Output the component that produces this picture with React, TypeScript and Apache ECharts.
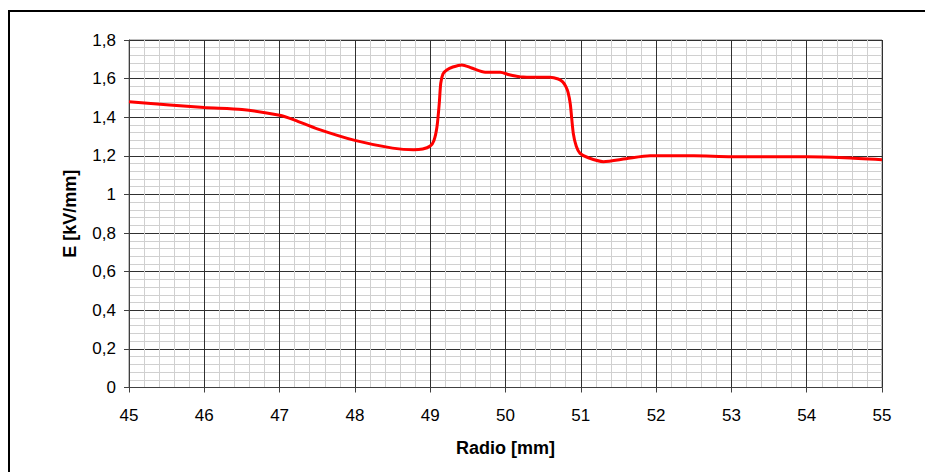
import React, { useEffect, useRef } from "react";
import * as echarts from "echarts";

const radio = [45, 46, 46.5, 47, 47.2, 47.5, 48, 48.5, 48.78, 48.9, 49.0, 49.05, 49.09, 49.12, 49.14, 49.17, 49.22, 49.3, 49.42, 49.55, 49.73, 49.93, 50.05, 50.19, 50.4, 50.59, 50.7, 50.76, 50.8, 50.83, 50.86, 50.9, 50.94, 50.99, 51.1, 51.3, 51.6, 51.92, 52.5, 53, 54, 54.5, 55];
const field = [1.48, 1.45, 1.44, 1.41, 1.385, 1.34, 1.28, 1.24, 1.231, 1.235, 1.251, 1.28, 1.351, 1.47, 1.576, 1.625, 1.645, 1.66, 1.671, 1.655, 1.633, 1.633, 1.62, 1.61, 1.607, 1.607, 1.598, 1.583, 1.56, 1.53, 1.47, 1.317, 1.25, 1.213, 1.19, 1.17, 1.185, 1.2, 1.2, 1.195, 1.195, 1.19, 1.18];
const xTicks = [45, 46, 47, 48, 49, 50, 51, 52, 53, 54, 55];
const yTicks = [0, 0.2, 0.4, 0.6, 0.8, 1, 1.2, 1.4, 1.6, 1.8];

export default function App() {
  const ref = useRef<HTMLDivElement>(null);
  useEffect(() => {
    document.body.style.margin = "0";
    const chart = echarts.init(ref.current!, null, { renderer: "svg" });
    const font = "Liberation Sans, Arial, sans-serif";
    chart.setOption({
      animation: false,
      backgroundColor: "#ffffff",
      textStyle: { fontFamily: font },
      grid: { left: 129, right: 43, top: 40, bottom: 84.5, show: true, borderColor: "#808080", borderWidth: 1 },
      graphic: [
        { type: "rect", shape: { x: 9, y: 11, width: 930, height: 480 }, style: { fill: "none", stroke: "#000", lineWidth: 2 }, silent: true },
      ],
      xAxis: {
        type: "value",
        min: xTicks[0],
        max: xTicks[xTicks.length - 1],
        interval: 1,
        name: "Radio [mm]",
        nameLocation: "middle",
        nameGap: 51,
        nameTextStyle: { fontFamily: font, fontWeight: "bold", fontSize: 18, color: "#000" },
        axisLine: { show: true, onZero: false, lineStyle: { color: "#404040", width: 1 } },
        axisTick: { show: true, length: 5, lineStyle: { color: "#404040" } },
        axisLabel: { fontFamily: font, fontSize: 17, color: "#000", margin: 19 },
        splitLine: { show: true, lineStyle: { color: "#303030", width: 1 } },
        minorTick: { show: false, splitNumber: 5 },
        minorSplitLine: { show: true, lineStyle: { color: "#d0d0d0", width: 1 } },
      },
      yAxis: {
        type: "value",
        min: 0,
        max: 1.8,
        interval: 0.2,
        name: "E [kV/mm]",
        nameLocation: "middle",
        nameGap: 50,
        nameRotate: 90,
        nameTextStyle: { fontFamily: font, fontWeight: "bold", fontSize: 18, color: "#000" },
        axisLine: { show: true, lineStyle: { color: "#404040", width: 1 } },
        axisTick: { show: true, length: 5, lineStyle: { color: "#404040" } },
        axisLabel: {
          fontFamily: font,
          fontSize: 17,
          color: "#000",
          margin: 13,
          formatter: (v: number) => {
            const t = yTicks.find((k) => Math.abs(k - v) < 1e-6);
            const val = t !== undefined ? t : v;
            return String(Number(val.toFixed(1))).replace(".", ",");
          },
        },
        splitLine: { show: true, lineStyle: { color: "#303030", width: 1 } },
        minorTick: { show: false, splitNumber: 5 },
        minorSplitLine: { show: true, lineStyle: { color: "#d0d0d0", width: 1 } },
      },
      series: [
        {
          type: "line",
          data: radio.map((r, i) => [r, field[i]]),
          showSymbol: false,
          smooth: 0.25,
          lineStyle: { color: "#ff0000", width: 3 },
        },
      ],
    });
    return () => chart.dispose();
  }, []);
  return <div ref={ref} style={{ position: "absolute", left: 0, top: 0, width: 925, height: 472 }} />;
}
